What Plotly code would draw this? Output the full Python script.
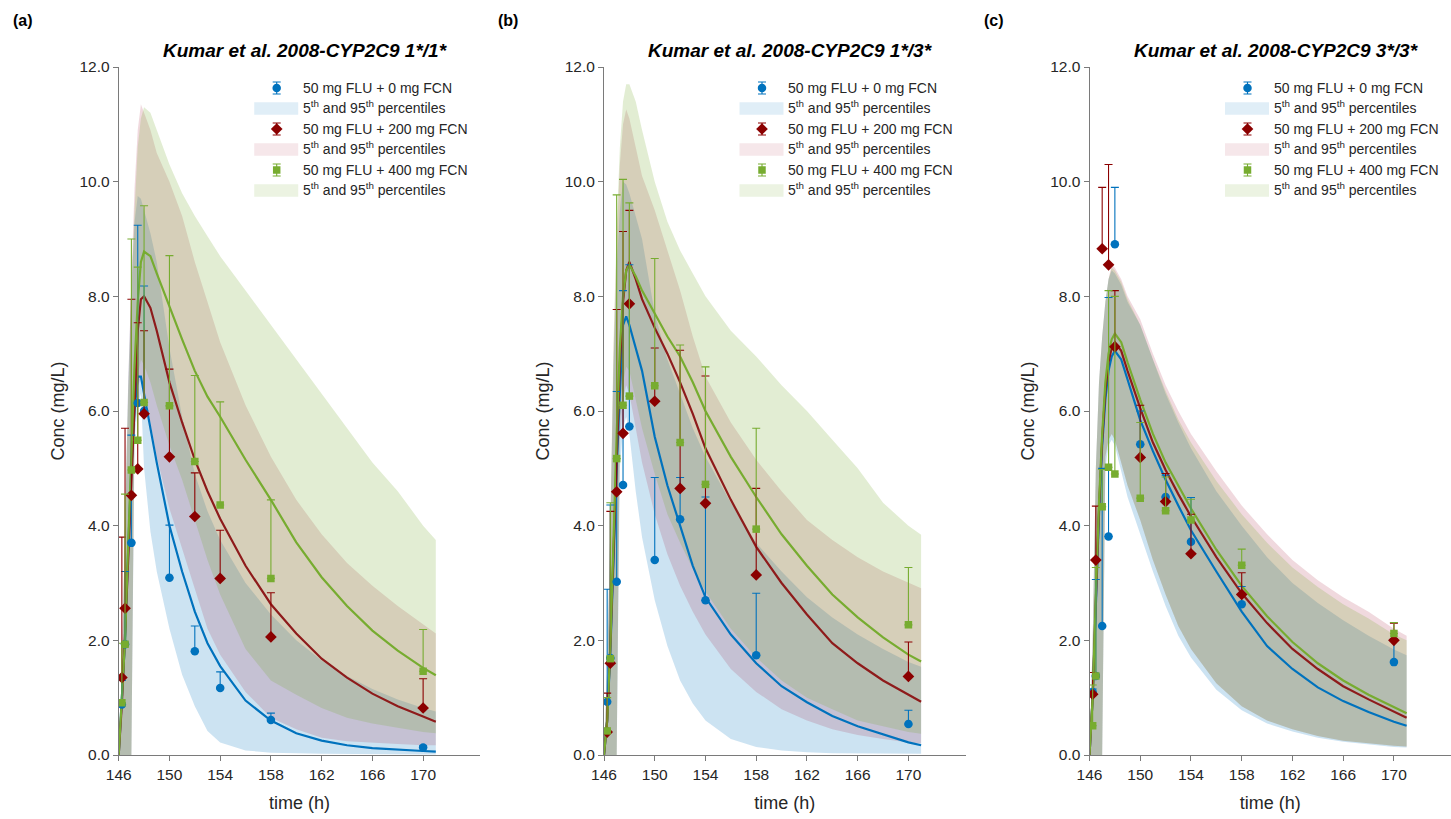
import numpy as np
import plotly.graph_objects as go

# ---------------- data ----------------
T = [146, 146.25, 146.5, 146.75, 147, 147.25, 147.5, 147.75, 148, 148.5, 149, 150, 151,
     152, 153, 154, 156, 158, 160, 162, 164, 166, 168, 170, 171]
OBS_T = [146.25, 146.5, 147, 147.5, 148, 150, 152, 154, 158, 170]
X_TICKS = [146, 150, 154, 158, 162, 166, 170]
Y_TICKS = [0, 2, 4, 6, 8, 10, 12]
TITLES = ["Kumar et al. 2008-CYP2C9 1*/1*", "Kumar et al. 2008-CYP2C9 1*/3*",
          "Kumar et al. 2008-CYP2C9 3*/3*"]
PANEL_LABELS = ["(a)", "(b)", "(c)"]
GROUP_NAMES = ["50 mg FLU + 0 mg FCN", "50 mg FLU + 200 mg FCN", "50 mg FLU + 400 mg FCN"]
BAND_NAME = "5<sup>th</sup> and 95<sup>th</sup> percentiles"

# ---- panel (a) ----
A_BLUE_MED = [0, 0.9, 2.0, 3.6, 5.0, 6.0, 6.6, 6.6, 6.3, 5.7, 5.1, 4.0, 3.2, 2.5, 1.95, 1.55, 0.95, 0.6, 0.38, 0.25, 0.17, 0.12, 0.09, 0.07, 0.06]
A_RED_MED = [0, 0.9, 2.1, 3.4, 4.6, 6.1, 7.4, 7.95, 8.0, 7.8, 7.4, 6.5, 5.8, 5.15, 4.6, 4.12, 3.3, 2.63, 2.12, 1.68, 1.35, 1.07, 0.85, 0.67, 0.58]
A_GREEN_MED = [0, 0.9, 2.0, 3.7, 5.2, 6.8, 7.9, 8.6, 8.78, 8.7, 8.4, 7.82, 7.25, 6.7, 6.25, 5.9, 5.15, 4.45, 3.71, 3.1, 2.6, 2.17, 1.82, 1.52, 1.39]
A_BLUE_LO = [0, 0, 0, 0, 0, 5.5, 6.1, 6.3, 5.0, 3.9, 3.2, 2.2, 1.4, 0.85, 0.42, 0.22, 0.08, 0.04, 0.03, 0.02, 0.01, 0.01, 0.01, 0.01, 0.01]
A_BLUE_HI = [0, 1.5, 4.0, 6.5, 8.2, 9.3, 9.75, 9.7, 9.5, 9.1, 8.6, 7.1, 5.9, 4.9, 4.25, 3.75, 3.0, 2.45, 2.0, 1.65, 1.38, 1.15, 0.97, 0.82, 0.76]
A_RED_LO = [0, 0, 0, 0, 0, 5.8, 6.4, 6.6, 6.4, 5.8, 5.2, 4.3, 3.6, 2.9, 2.2, 1.75, 1.1, 0.65, 0.45, 0.3, 0.24, 0.21, 0.19, 0.17, 0.17]
A_RED_HI = [0, 1.5, 4.0, 6.5, 8.3, 9.9, 10.9, 11.35, 11.2, 10.9, 10.5, 10.0, 9.4, 8.6, 7.9, 7.2, 6.1, 5.2, 4.45, 3.85, 3.35, 2.95, 2.6, 2.28, 2.12]
A_GREEN_LO = [0, 0, 0, 0, 0, 6.0, 6.6, 6.9, 6.8, 6.5, 6.1, 5.4, 4.8, 4.1, 3.4, 2.8, 1.85, 1.3, 1.05, 0.82, 0.65, 0.55, 0.47, 0.4, 0.38]
A_GREEN_HI = [0, 1.5, 4.0, 6.3, 8.0, 9.5, 10.6, 11.1, 11.3, 11.2, 10.9, 10.3, 9.8, 9.4, 9.05, 8.7, 8.1, 7.5, 6.9, 6.3, 5.7, 5.1, 4.6, 4.0, 3.75]
A_BLUE_OBS = [0.88, 1.93, 3.70, 6.14, 6.0, 3.09, 1.81, 1.17, 0.61, 0.13]
A_BLUE_TOP = [1.3, 3.2, 5.58, 9.24, 8.18, 4.01, 2.25, 1.45, 0.73, 0.16]
A_RED_OBS = [1.35, 2.56, 4.53, 4.99, 5.95, 5.2, 4.16, 3.08, 2.06, 0.82]
A_RED_TOP = [3.8, 5.7, 7.95, 7.54, 7.4, 6.73, 4.92, 3.92, 2.83, 1.33]
A_GREEN_OBS = [0.91, 1.93, 4.97, 5.49, 6.15, 6.09, 5.12, 4.36, 3.08, 1.46]
A_GREEN_TOP = [1.95, 4.55, 9.0, 8.51, 9.58, 8.71, 6.62, 6.16, 4.45, 2.19]

# ---- panel (b) ----
B_BLUE_MED = [0, 0.6, 1.8, 3.6, 5.0, 6.3, 7.5, 7.65, 7.5, 7.1, 6.7, 5.55, 4.7, 4.0, 3.3, 2.75, 2.1, 1.6, 1.2, 0.92, 0.68, 0.5, 0.36, 0.22, 0.17]
B_RED_MED = [0, 0.6, 1.9, 3.5, 5.2, 6.8, 7.9, 8.45, 8.6, 8.3, 7.95, 7.45, 7.0, 6.5, 5.95, 5.35, 4.45, 3.63, 3.0, 2.45, 1.95, 1.6, 1.3, 1.05, 0.93]
B_GREEN_MED = [0, 0.6, 1.9, 3.8, 5.6, 7.1, 8.0, 8.45, 8.55, 8.35, 8.1, 7.7, 7.3, 6.95, 6.5, 6.0, 5.2, 4.5, 3.85, 3.3, 2.8, 2.4, 2.05, 1.75, 1.63]
B_BLUE_LO = [0, 0, 0, 0, 0, 5.0, 5.7, 5.9, 5.6, 4.6, 3.8, 2.7, 1.9, 1.3, 0.9, 0.6, 0.28, 0.14, 0.08, 0.05, 0.03, 0.02, 0.02, 0.02, 0.02]
B_BLUE_HI = [0, 1.5, 4.0, 6.8, 8.5, 9.5, 10.0, 9.95, 9.8, 9.4, 9.0, 7.7, 6.9, 6.3, 5.7, 5.2, 4.4, 3.7, 3.2, 2.75, 2.4, 2.1, 1.85, 1.62, 1.54]
B_RED_LO = [0, 0, 0, 0, 0, 5.5, 6.2, 6.45, 6.3, 5.7, 5.1, 4.2, 3.5, 2.95, 2.5, 2.1, 1.5, 1.1, 0.8, 0.6, 0.45, 0.35, 0.28, 0.22, 0.2]
B_RED_HI = [0, 1.5, 4.0, 7.0, 9.0, 10.3, 11.0, 11.26, 11.1, 10.6, 10.1, 9.5, 8.8, 8.1, 7.3, 6.6, 5.8, 5.15, 4.6, 4.1, 3.75, 3.45, 3.2, 3.0, 2.91]
B_GREEN_LO = [0, 0, 0, 0, 0, 5.8, 6.5, 6.77, 6.7, 6.2, 5.7, 4.9, 4.2, 3.7, 3.25, 2.85, 2.2, 1.7, 1.3, 1.0, 0.8, 0.6, 0.5, 0.4, 0.37]
B_GREEN_HI = [0, 1.5, 4.0, 7.2, 9.2, 10.6, 11.4, 11.7, 11.7, 11.4, 10.9, 10.0, 9.3, 8.8, 8.4, 8.0, 7.4, 6.95, 6.45, 6.0, 5.5, 5.0, 4.4, 4.0, 3.84]
B_BLUE_OBS = [0.93, 1.69, 3.02, 4.71, 5.73, 3.4, 4.11, 2.7, 1.74, 0.54]
B_BLUE_TOP = [2.89, 4.36, 6.34, 8.1, 8.55, 4.84, 4.84, 4.5, 2.82, 0.78]
B_RED_OBS = [0.4, 1.6, 4.59, 5.61, 7.87, 6.17, 4.65, 4.39, 3.14, 1.37]
B_RED_TOP = [1.08, 4.25, 7.77, 9.13, 9.5, 7.1, 7.06, 6.61, 4.65, 1.97]
B_GREEN_OBS = [0.42, 1.68, 5.17, 6.1, 6.26, 6.44, 5.45, 4.72, 3.94, 2.27]
B_GREEN_TOP = [1.0, 4.4, 9.77, 10.04, 9.63, 8.66, 7.15, 6.77, 5.70, 3.27]

# ---- panel (c) ----
C_BLUE_MED = [0, 1.0, 2.6, 4.2, 5.4, 6.2, 6.7, 6.95, 7.05, 6.9, 6.55, 5.84, 5.3, 4.8, 4.35, 3.92, 3.2, 2.5, 1.9, 1.5, 1.18, 0.94, 0.75, 0.58, 0.51]
C_RED_MED = [0, 1.0, 2.7, 4.3, 5.5, 6.35, 6.85, 7.1, 7.2, 7.05, 6.7, 6.05, 5.45, 4.97, 4.55, 4.16, 3.45, 2.82, 2.3, 1.85, 1.5, 1.2, 0.97, 0.75, 0.65]
C_GREEN_MED = [0, 1.0, 2.8, 4.4, 5.6, 6.5, 7.0, 7.25, 7.35, 7.2, 6.85, 6.2, 5.6, 5.1, 4.7, 4.3, 3.58, 2.95, 2.42, 1.97, 1.6, 1.3, 1.05, 0.83, 0.73]
C_BLUE_LO = [0, 0, 0, 0, 0, 5.0, 5.4, 5.5, 5.4, 4.95, 4.5, 3.85, 3.2, 2.6, 2.08, 1.7, 1.14, 0.78, 0.55, 0.41, 0.3, 0.23, 0.18, 0.14, 0.13]
C_BLUE_HI = [0, 2.0, 5.0, 6.5, 7.3, 7.9, 8.3, 8.45, 8.4, 8.2, 7.9, 7.5, 6.9, 6.3, 5.8, 5.35, 4.6, 4.0, 3.45, 3.0, 2.65, 2.35, 2.08, 1.84, 1.74]
C_RED_LO = [0, 0, 0, 0, 0, 5.2, 5.5, 5.6, 5.5, 5.1, 4.7, 4.1, 3.4, 2.8, 2.25, 1.85, 1.25, 0.85, 0.6, 0.45, 0.33, 0.25, 0.2, 0.16, 0.15]
C_RED_HI = [0, 2.0, 5.0, 6.5, 7.3, 7.9, 8.3, 8.55, 8.5, 8.3, 8.0, 7.6, 7.0, 6.45, 6.0, 5.6, 4.95, 4.35, 3.85, 3.4, 3.05, 2.75, 2.5, 2.2, 2.08]
C_GREEN_LO = [0, 0, 0, 0, 0, 5.2, 5.5, 5.6, 5.5, 5.1, 4.7, 4.1, 3.4, 2.8, 2.25, 1.85, 1.25, 0.85, 0.6, 0.45, 0.33, 0.25, 0.2, 0.16, 0.15]
C_GREEN_HI = [0, 2.0, 5.0, 6.5, 7.3, 7.9, 8.3, 8.5, 8.45, 8.25, 7.95, 7.5, 6.9, 6.35, 5.85, 5.45, 4.78, 4.2, 3.7, 3.27, 2.93, 2.63, 2.38, 2.1, 2.0]
C_BLUE_OBS = [1.10, 1.38, 2.25, 3.81, 8.91, 5.42, 4.5, 3.72, 2.63, 1.62]
C_BLUE_TOP = [1.15, 3.06, 5.0, 7.98, 9.9, 6.0, 4.88, 4.49, 2.94, 2.03]
C_RED_OBS = [1.06, 3.40, 8.83, 8.55, 7.12, 5.19, 4.42, 3.51, 2.8, 2.0]
C_RED_TOP = [1.44, 4.34, 9.9, 10.3, 8.1, 6.1, 4.91, 4.2, 3.18, 2.3]
C_GREEN_OBS = [0.51, 1.38, 4.33, 5.02, 4.9, 4.48, 4.26, 4.10, 3.31, 2.12]
C_GREEN_TOP = [1.22, 3.27, 4.98, 8.1, 8.0, 5.8, 4.85, 4.46, 3.59, 2.31]

PANELS = [
    dict(med=[A_BLUE_MED, A_RED_MED, A_GREEN_MED], lo=[A_BLUE_LO, A_RED_LO, A_GREEN_LO],
         hi=[A_BLUE_HI, A_RED_HI, A_GREEN_HI], obs=[A_BLUE_OBS, A_RED_OBS, A_GREEN_OBS],
         top=[A_BLUE_TOP, A_RED_TOP, A_GREEN_TOP]),
    dict(med=[B_BLUE_MED, B_RED_MED, B_GREEN_MED], lo=[B_BLUE_LO, B_RED_LO, B_GREEN_LO],
         hi=[B_BLUE_HI, B_RED_HI, B_GREEN_HI], obs=[B_BLUE_OBS, B_RED_OBS, B_GREEN_OBS],
         top=[B_BLUE_TOP, B_RED_TOP, B_GREEN_TOP]),
    dict(med=[C_BLUE_MED, C_RED_MED, C_GREEN_MED], lo=[C_BLUE_LO, C_RED_LO, C_GREEN_LO],
         hi=[C_BLUE_HI, C_RED_HI, C_GREEN_HI], obs=[C_BLUE_OBS, C_RED_OBS, C_GREEN_OBS],
         top=[C_BLUE_TOP, C_RED_TOP, C_GREEN_TOP]),
]

# ---------------- style ----------------
W, H = 1451, 819
FONT = "Liberation Sans, Arial, sans-serif"
LINE_COLORS = ["#0072BD", "#8E1B1B", "#77AC30"]
MARKER_COLORS = ["#0072BD", "#8B0000", "#77AC30"]
BAND_COLORS = ["rgba(0,114,189,0.20)", "rgba(162,20,47,0.16)", "rgba(119,172,48,0.21)"]
SWATCH_COLORS = ["rgba(0,114,189,0.12)", "rgba(162,20,47,0.10)", "rgba(119,172,48,0.14)"]
SYMBOLS = ["circle", "diamond", "square"]
SIZES = [8.5, 9, 7.5]
AXIS_COLOR = "#7a7a7a"
TEXT_COLOR = "#262626"

X_LEFT = [118.7, 604.0, 1089.5]
X_WIDTH = 361.5
Y0_PX, Y12_PX = 755.0, 67.0
X_RANGE = [146, 174.5]
LEG_ROWS = [88, 108.5, 129, 149.5, 170, 190.5]

fig = go.Figure()
shapes, annotations = [], []
for p, panel in enumerate(PANELS):
    sfx = "" if p == 0 else str(p + 1)
    xa, ya = "x" + sfx, "y" + sfx
    for g in range(3):
        xs = list(T) + list(T[::-1])
        ys = list(panel["hi"][g]) + list(panel["lo"][g][::-1])
        fig.add_trace(go.Scatter(
            x=xs, y=ys, fill="toself", fillcolor=BAND_COLORS[g], mode="lines",
            line=dict(width=0, color=BAND_COLORS[g]), name=BAND_NAME, showlegend=False,
            xaxis=xa, yaxis=ya, hoverinfo="skip"))
    for g in range(3):
        fig.add_trace(go.Scatter(
            x=T, y=panel["med"][g], mode="lines", line=dict(color=LINE_COLORS[g], width=2.2),
            showlegend=False, xaxis=xa, yaxis=ya))
    for g in range(3):
        obs = np.array(panel["obs"][g])
        up = np.array(panel["top"][g]) - obs
        fig.add_trace(go.Scatter(
            x=OBS_T, y=obs, mode="markers", name=GROUP_NAMES[g], showlegend=False,
            marker=dict(symbol=SYMBOLS[g], size=SIZES[g], color=MARKER_COLORS[g],
                        line=dict(width=0)),
            error_y=dict(type="data", symmetric=False, array=up, arrayminus=np.zeros_like(up),
                         color=MARKER_COLORS[g], thickness=1.1, width=4),
            xaxis=xa, yaxis=ya))

    # ----- legend (drawn on a pixel overlay) -----
    xl = X_LEFT[p]
    for g in range(3):
        ym = LEG_ROWS[2 * g]
        yb = LEG_ROWS[2 * g + 1]
        fig.add_trace(go.Scatter(
            x=[xl + 158], y=[ym], mode="markers", showlegend=False, hoverinfo="skip",
            marker=dict(symbol=SYMBOLS[g], size=SIZES[g], color=MARKER_COLORS[g]),
            error_y=dict(type="constant", value=6, symmetric=True, color=MARKER_COLORS[g],
                         thickness=1.1, width=4),
            xaxis="x4", yaxis="y4"))
        shapes.append(dict(type="rect", xref="paper", yref="paper",
                           x0=(xl + 135.5) / W, x1=(xl + 179.5) / W,
                           y0=1 - (yb + 6.3) / H, y1=1 - (yb - 6.3) / H,
                           fillcolor=SWATCH_COLORS[g], line=dict(width=0), layer="above"))
        annotations.append(dict(text=GROUP_NAMES[g], x=(xl + 182) / W, y=1 - ym / H,
                                xref="paper", yref="paper", showarrow=False,
                                xanchor="left", yanchor="middle",
                                font=dict(family=FONT, size=14, color=TEXT_COLOR)))
        annotations.append(dict(text=BAND_NAME, x=(xl + 182) / W, y=1 - (yb - 1.5) / H,
                                xref="paper", yref="paper", showarrow=False,
                                xanchor="left", yanchor="middle",
                                font=dict(family=FONT, size=14, color=TEXT_COLOR)))

axis_common = dict(showline=True, linecolor=AXIS_COLOR, linewidth=1, ticks="outside",
                   ticklen=5, tickcolor=AXIS_COLOR, tickwidth=1, showgrid=False,
                   zeroline=False, tickfont=dict(family=FONT, size=15.5, color=TEXT_COLOR),
                   mirror=False, automargin=False)
layout = dict(width=W, height=H, margin=dict(l=0, r=0, t=0, b=0, autoexpand=False),
              paper_bgcolor="white", plot_bgcolor="rgba(0,0,0,0)", showlegend=False,
              font=dict(family=FONT, color=TEXT_COLOR))
for p in range(3):
    sfx = "" if p == 0 else str(p + 1)
    x0 = X_LEFT[p] / W
    x1 = min((X_LEFT[p] + X_WIDTH) / W, 1.0)
    layout["xaxis" + sfx] = dict(axis_common, domain=[x0, x1], range=X_RANGE,
                                 tickvals=X_TICKS, anchor="y" + sfx,
                                 title=dict(text="time (h)", font=dict(size=18, family=FONT),
                                            standoff=14))
    layout["yaxis" + sfx] = dict(axis_common, domain=[1 - Y0_PX / H, 1 - Y12_PX / H],
                                 range=[0, 12], tickvals=Y_TICKS, tickformat=".1f",
                                 anchor="x" + sfx,
                                 title=dict(text="Conc (mg/L)", font=dict(size=18, family=FONT),
                                            standoff=10))
    cx = (X_LEFT[p] + X_WIDTH / 2 + 6) / W
    annotations.append(dict(text="<b><i>" + TITLES[p] + "</i></b>", x=cx, y=1 - 50 / H,
                            xref="paper", yref="paper", showarrow=False,
                            font=dict(family=FONT, size=19, color="black"),
                            xanchor="center", yanchor="middle"))
    annotations.append(dict(text="<b>" + PANEL_LABELS[p] + "</b>",
                            x=(X_LEFT[p] - 96) / W, y=1 - 20 / H, xref="paper", yref="paper",
                            showarrow=False, font=dict(family=FONT, size=16, color="black"),
                            xanchor="center", yanchor="middle"))
layout["xaxis4"] = dict(domain=[0, 1], range=[0, W], visible=False, fixedrange=True,
                        anchor="y4", automargin=False)
layout["yaxis4"] = dict(domain=[0, 1], range=[H, 0], visible=False, fixedrange=True,
                        anchor="x4", automargin=False)
layout["annotations"] = annotations
layout["shapes"] = shapes
fig.update_layout(**layout)
fig.write_html("out.html")
